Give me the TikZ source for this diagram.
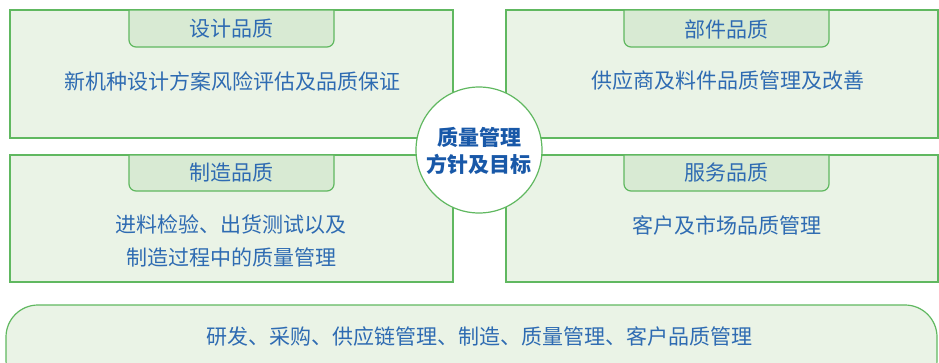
\documentclass[tikz,border=0pt]{standalone}
\usepackage{fontspec}
\setmainfont{Noto Sans CJK SC}
\definecolor{gline}{RGB}{96,184,96}
\definecolor{gfill}{RGB}{234,243,230}
\definecolor{tfill}{RGB}{216,234,211}
\definecolor{btext}{RGB}{46,107,178}
\definecolor{ctext}{RGB}{24,88,168}
\tikzset{
  panel/.style={draw=gline,fill=gfill,line width=1.2pt},
  tabbox/.style={draw=gline,fill=tfill,line width=1.2pt},
  tabtext/.style={text=btext,font=\fontsize{21}{24}\selectfont,inner sep=0pt},
  bodytext/.style={text=btext,font=\fontsize{21}{33}\selectfont,inner sep=0pt,align=center},
}
\begin{document}
\begin{tikzpicture}[x=1pt,y=-1pt]
\useasboundingbox (0,0) rectangle (939,362);
% panels
\draw[panel] (10,10) rectangle (453,138);
\draw[panel] (506,10) rectangle (938,138);
\draw[panel] (10,155) rectangle (453,282);
\draw[panel] (506,155) rectangle (938,282);
% tabs
\draw[tabbox] (129,10) {[rounded corners=7] -- (129,47) -- (334,47)} -- (334,10) -- cycle;
\draw[tabbox] (624,10) {[rounded corners=7] -- (624,47) -- (829,47)} -- (829,10) -- cycle;
\draw[tabbox] (129,155) {[rounded corners=7] -- (129,191) -- (334,191)} -- (334,155) -- cycle;
\draw[tabbox] (624,155) {[rounded corners=7] -- (624,191) -- (829,191)} -- (829,155) -- cycle;
\node[tabtext] (t1) at (231.5,29) {设计品质};
\node[tabtext] (t2) at (726.5,29) {部件品质};
\node[tabtext] (t3) at (231.5,173) {制造品质};
\node[tabtext] (t4) at (726.5,173) {服务品质};
% body texts
\node[bodytext] (b1) at (232,81) {新机种设计方案风险评估及品质保证};
\node[bodytext] (b2) at (728,81) {供应商及料件品质管理及改善};
\node[bodytext] (b3) at (231,241) {进料检验、出货测试以及\\制造过程中的质量管理};
\node[bodytext] (b4) at (727,225) {客户及市场品质管理};
% centre circle
\node[circle,draw=gline,fill=white,line width=1.2pt,minimum size=126pt,inner sep=0pt] (c) at (479,150) {};
\node[text=ctext,font=\bfseries\fontsize{21}{27}\selectfont,align=center,inner sep=0pt] (ct) at (479,151) {质量管理\\方针及目标};
% bottom pill
\draw[panel,rounded corners=32] (6,305) rectangle (937,392);
\node[bodytext] (p) at (479,336) {研发、采购、供应链管理、制造、质量管理、客户品质管理};
\end{tikzpicture}
\end{document}
